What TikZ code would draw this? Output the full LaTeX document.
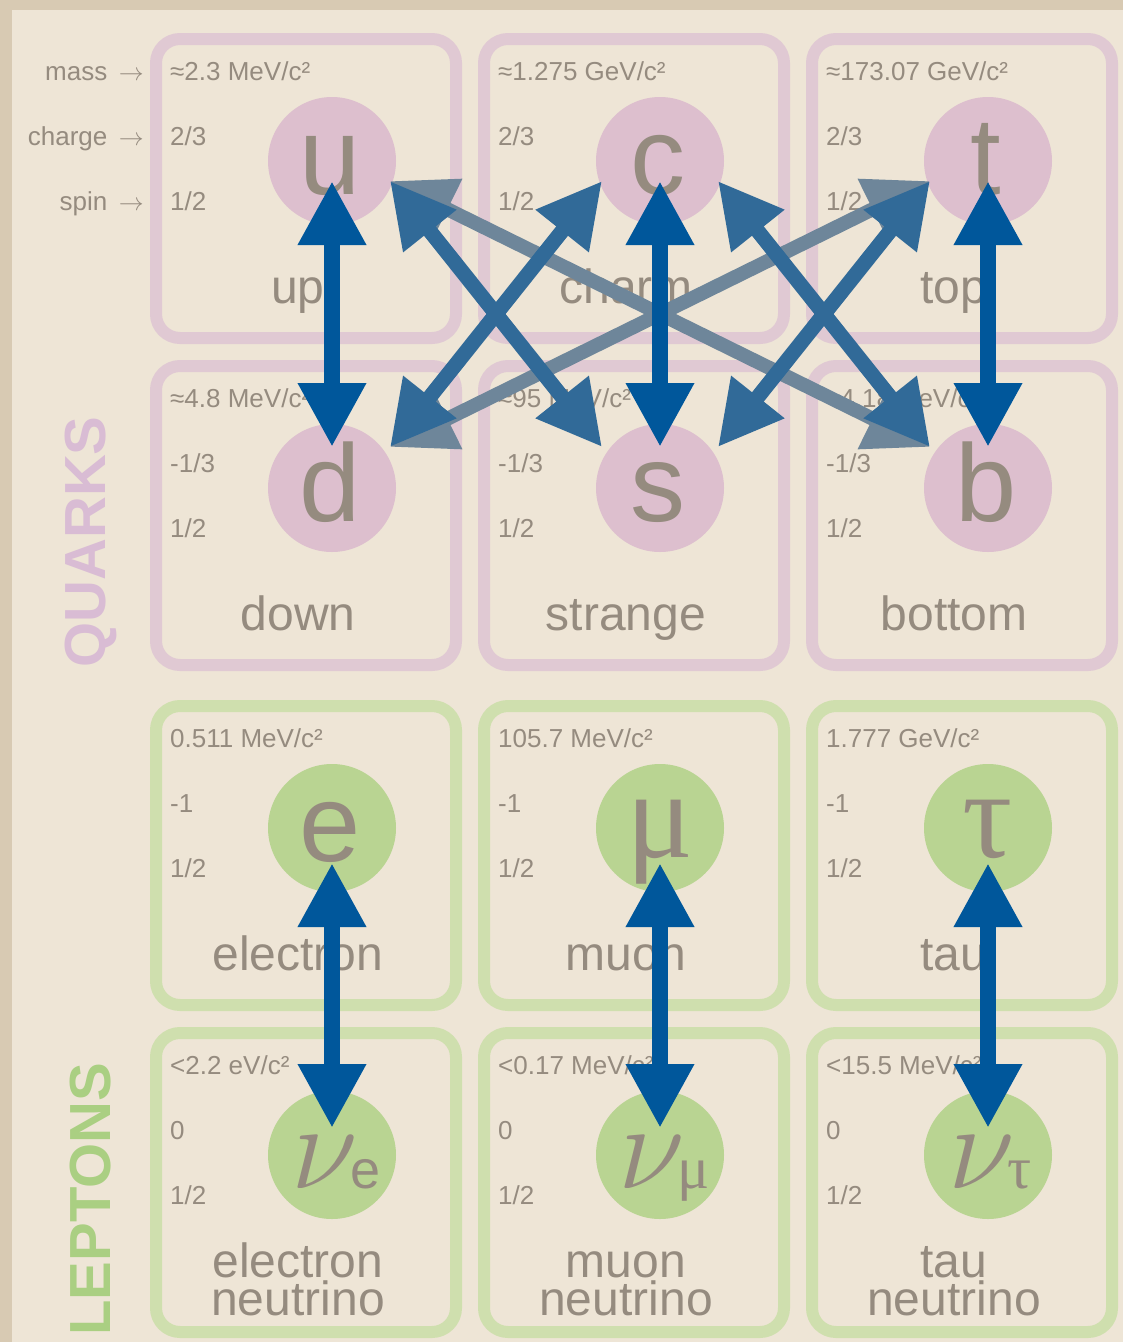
\documentclass[tikz,border=0pt]{standalone}
\usepackage{graphicx}
\usepackage{fontspec}
\setmainfont{Liberation Sans}
\newfontfamily\grk{Liberation Serif}
\usetikzlibrary{arrows.meta,calc}

\definecolor{bgout}{HTML}{D8CAB3}
\definecolor{bgin}{HTML}{EEE5D6}
\definecolor{txt}{HTML}{958B7F}
\definecolor{pinkb}{HTML}{E0C9D3}
\definecolor{pinkc}{HTML}{DDBFCE}
\definecolor{greenb}{HTML}{CFDFAE}
\definecolor{greenc}{HTML}{B9D492}
\definecolor{arrdark}{HTML}{00579B}
\definecolor{arrmid}{HTML}{316A98}
\definecolor{arrgray}{HTML}{6E869A}
\definecolor{qlabel}{HTML}{D9BCD4}
\definecolor{llabel}{HTML}{AACF82}

\tikzset{
  cellbox/.style={draw, line width=12pt, rounded corners=24pt, minimum width=300pt, minimum height=299pt, inner sep=0pt},
  qbox/.style={cellbox, draw=pinkb},
  lbox/.style={cellbox, draw=greenb},
  ball/.style={circle, minimum size=128pt, inner sep=0pt},
  qball/.style={ball, fill=pinkc},
  lball/.style={ball, fill=greenc},
  sym/.style={text=txt, font=\fontsize{110}{110}\selectfont, anchor=base, inner sep=0pt},
  gsym/.style={text=txt, font=\grk\fontsize{125}{125}\selectfont, anchor=base, inner sep=0pt},
  nusym/.style={text=txt, anchor=base, inner sep=0pt},
  prop/.style={text=txt, font=\fontsize{26}{26}\selectfont, anchor=base west, inner sep=0pt},
  rowlabel/.style={text=txt, font=\fontsize{26}{26}\selectfont, anchor=base east, inner sep=0pt},
  pname/.style={text=txt, font=\fontsize{48}{48}\selectfont, anchor=base, inner sep=0pt},
  pname2/.style={text=txt, font=\fontsize{48}{38}\selectfont, anchor=base, inner sep=0pt, align=center},
  grouplabel/.style={rotate=90, font=\bfseries\fontsize{58}{58}\selectfont, inner sep=0pt},
  bigtips/.style={{Triangle[length=64pt,width=64pt]}-{Triangle[length=64pt,width=64pt]}},
  vertarrow/.style={bigtips, draw=arrdark, line width=16pt},
  midarrow/.style={bigtips, draw=arrmid, line width=15pt},
  grayarrow/.style={bigtips, draw=arrgray, line width=14pt},
}

% #1 name, #2 left x, #3 top y, #4 kind (q/l), #5 mass, #6 charge, #7 spin
\newcommand\pcell[7]{%
  \node[#4box] (#1-box) at (#2+156, #3+155.5) {};
  \node[#4ball] (#1) at (#2+182, #3+128) {};
  \node[prop] (#1-m) at (#2+20, #3+47) {#5};
  \node[prop] (#1-q) at (#2+20, #3+112) {#6};
  \node[prop] (#1-s) at (#2+20, #3+177) {#7};
}
\newcommand\bignu{\scalebox{4.9}{\fontsize{24.88}{24.88}\selectfont$\nu$}\kern-7pt}
\newcommand\subsans[1]{{\fontsize{54}{54}\selectfont #1}}
\newcommand\subgrk[1]{{\grk\fontsize{60}{60}\selectfont #1}}

\begin{document}
\begin{tikzpicture}[x=1pt,y=-1pt]
\fill[bgout] (0,0) rectangle (1123,1342);
\fill[bgin] (12,10) rectangle (1123,1342);
\useasboundingbox (0,0) rectangle (1123,1342);

% row labels
\node[rowlabel] (lab-mass) at (144,80) {mass\, $\rightarrow$};
\node[rowlabel] (lab-charge) at (144,145) {charge\, $\rightarrow$};
\node[rowlabel] (lab-spin) at (144,210) {spin\, $\rightarrow$};

% quarks
\pcell{u}{150}{33}{q}{≈2.3 MeV/c²}{2/3}{1/2}
\pcell{c}{478}{33}{q}{≈1.275 GeV/c²}{2/3}{1/2}
\pcell{t}{806}{33}{q}{≈173.07 GeV/c²}{2/3}{1/2}
\pcell{d}{150}{360}{q}{≈4.8 MeV/c²}{-1/3}{1/2}
\pcell{s}{478}{360}{q}{≈95 MeV/c²}{-1/3}{1/2}
\pcell{b}{806}{360}{q}{≈4.18 GeV/c²}{-1/3}{1/2}
% leptons
\pcell{e}{150}{700}{l}{0.511 MeV/c²}{-1}{1/2}
\pcell{mu}{478}{700}{l}{105.7 MeV/c²}{-1}{1/2}
\pcell{tau}{806}{700}{l}{1.777 GeV/c²}{-1}{1/2}
\pcell{nue}{150}{1027}{l}{<2.2 eV/c²}{0}{1/2}
\pcell{numu}{478}{1027}{l}{<0.17 MeV/c²}{0}{1/2}
\pcell{nutau}{806}{1027}{l}{<15.5 MeV/c²}{0}{1/2}

% symbols
\node[sym] (u-sym) at (330,194) {u};
\node[sym] (c-sym) at (658,194) {c};
\node[sym] (t-sym) at (986,194) {t};
\node[sym] (d-sym) at (330,521) {d};
\node[sym] (s-sym) at (658,521) {s};
\node[sym] (b-sym) at (986,521) {b};
\node[sym] (e-sym) at (330,861) {e};
\node[gsym] (mu-sym) at (660,857) {μ};
\node[gsym] (tau-sym) at (988,857) {τ};
\node[nusym] (nue-sym) at (336,1188) {\bignu\subsans{e}};
\node[nusym] (numu-sym) at (664,1188) {\bignu\subgrk{μ}};
\node[nusym] (nutau-sym) at (990,1188) {\bignu\subgrk{τ}};

% names
\node[pname] (u-name) at (298,303) {up};
\node[pname] (c-name) at (626,303) {charm};
\node[pname] (t-name) at (954,303) {top};
\node[pname] (d-name) at (298,630) {down};
\node[pname] (s-name) at (626,630) {strange};
\node[pname] (b-name) at (954,630) {bottom};
\node[pname] (e-name) at (298,970) {electron};
\node[pname] (mu-name) at (626,970) {muon};
\node[pname] (tau-name) at (954,970) {tau};
\node[pname2] (nue-name) at (298,1315) {electron\\neutrino};
\node[pname2] (numu-name) at (626,1315) {muon\\neutrino};
\node[pname2] (nutau-name) at (954,1315) {tau\\neutrino};

% group labels
\node[grouplabel, text=qlabel] (quarks) at (91,542) {QUARKS};
\node[grouplabel, text=llabel] (leptons) at (91,1199) {LEPTONS};

% arrow end points
\foreach \q in {u,c,t} {
  \coordinate (\q-l) at ($(\q.center)+(-58,20)$);
  \coordinate (\q-r) at ($(\q.center)+(58,20)$);
  \coordinate (\q-v) at ($(\q.center)+(0,20)$);
}
\foreach \q in {d,s,b} {
  \coordinate (\q-l) at ($(\q.center)+(-58,-41)$);
  \coordinate (\q-r) at ($(\q.center)+(58,-41)$);
  \coordinate (\q-v) at ($(\q.center)+(0,-41)$);
}
\foreach \q in {e,mu,tau} {
  \coordinate (\q-v) at ($(\q.center)+(0,35)$);
}
\foreach \q in {nue,numu,nutau} {
  \coordinate (\q-v) at ($(\q.center)+(0,-27)$);
}

% long gray arrows
\draw[grayarrow] (u-r) -- (b-l);
\draw[grayarrow] (t-l) -- (d-r);
% medium arrows
\draw[midarrow] (u-r) -- (s-l);
\draw[midarrow] (c-l) -- (d-r);
\draw[midarrow] (c-r) -- (b-l);
\draw[midarrow] (t-l) -- (s-r);
% vertical arrows
\draw[vertarrow] (u-v) -- (d-v);
\draw[vertarrow] (c-v) -- (s-v);
\draw[vertarrow] (t-v) -- (b-v);
\draw[vertarrow] (e-v) -- (nue-v);
\draw[vertarrow] (mu-v) -- (numu-v);
\draw[vertarrow] (tau-v) -- (nutau-v);
\end{tikzpicture}
\end{document}
